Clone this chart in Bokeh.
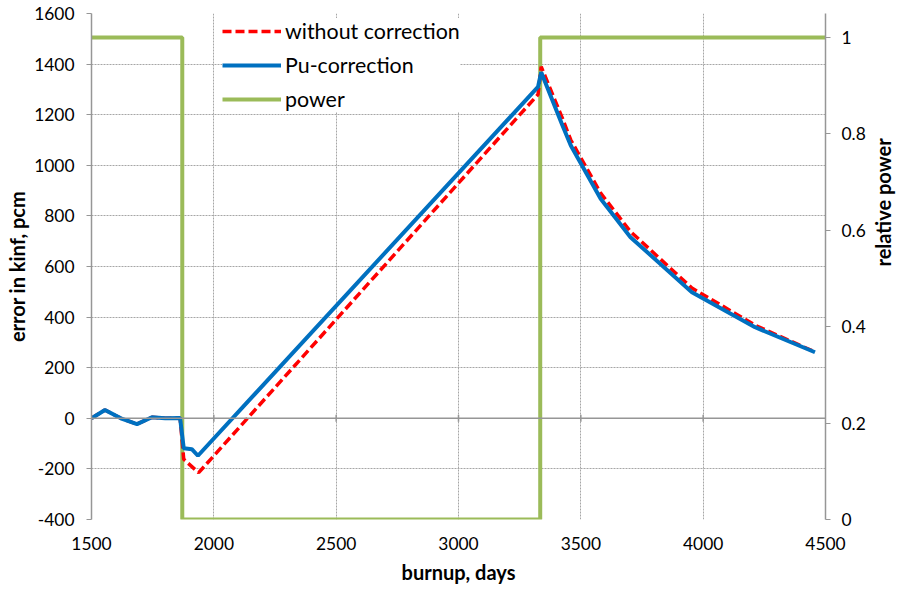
import math
from bokeh.plotting import figure
from bokeh.models import (Range1d, LinearAxis, FixedTicker, Span, Legend,
                          LegendItem, Title)
from bokeh.embed import file_html
from bokeh.resources import INLINE

# burnup (days) and reactivity error (pcm), uncorrected run
days_raw = [1500, 1555, 1620, 1686, 1747, 1801, 1862, 1877, 1938, 3325,
            3338, 3425, 3459, 3581, 3703, 3954, 4212, 4457]
err_raw = [0, 33, 0, -23, 4, 0, 1, -162, -215, 1280,
           1390, 1185, 1100, 890, 738, 515, 368, 262]

# same run with Pu correction
days_pu = [1500, 1555, 1620, 1686, 1747, 1801, 1862, 1877, 1910, 1935, 3325,
           3338, 3425, 3459, 3581, 3703, 3954, 4212, 4457]
err_pu = [0, 33, 0, -23, 4, 0, 1, -118, -122, -148, 1310,
          1368, 1157, 1078, 868, 716, 498, 360, 261]

# relative power history (step shutdown and restart)
days_pow = [1500, 1871, 1871, 3334, 3334, 4500]
power = [1, 1, 0, 0, 1, 1]

x_ticks = [1500, 2000, 2500, 3000, 3500, 4000, 4500]
y_ticks = [-400, -200, 0, 200, 400, 600, 800, 1000, 1200, 1400, 1600]
p_ticks = [0, 0.2, 0.4, 0.6, 0.8, 1]
p_labels = ["0", "0.2", "0.4", "0.6", "0.8", "1"]

FONT = "Lato"
GRID = "#a6a6a6"
AXIS = "#969696"
RED = "#ff0000"
BLUE = "#0070c0"
GREEN = "#9bbb59"
TICK_SIZE = "17.4px"
TITLE_SIZE = "20px"

p = figure(width=909, height=593, output_backend="svg", toolbar_location=None,
           x_range=Range1d(1500, 4500), y_range=Range1d(-400, 1600),
           min_border_left=91, min_border_right=82, min_border_top=13,
           min_border_bottom=74)
p.outline_line_color = None
p.background_fill_color = "white"
p.extra_y_ranges = {"power": Range1d(0, 1.05)}

# grid
p.xgrid.ticker = FixedTicker(ticks=x_ticks)
p.ygrid.ticker = FixedTicker(ticks=y_ticks)
for g in (p.xgrid, p.ygrid):
    g.grid_line_color = GRID
    g.grid_line_dash = "2 1"
    g.grid_line_width = 1

# left axis
ya = p.yaxis[0]
ya.ticker = FixedTicker(ticks=y_ticks)
ya.major_label_overrides = {t: str(t) for t in y_ticks}
ya.axis_label = "error in kinf, pcm"
ya.axis_line_color = AXIS
ya.axis_line_width = 1.5
ya.major_tick_line_color = AXIS
ya.major_tick_out = 5
ya.major_tick_in = 0
ya.minor_tick_line_color = None
ya.major_label_standoff = 12
ya.axis_label_standoff = 2

# bottom axis: labels only, the zero line carries the ticks
xa = p.xaxis[0]
xa.ticker = FixedTicker(ticks=x_ticks)
xa.major_label_overrides = {t: str(t) for t in x_ticks}
xa.axis_label = "burnup, days"
xa.axis_line_color = None
xa.major_tick_line_color = None
xa.minor_tick_line_color = None
xa.major_tick_out = 0
xa.major_label_standoff = 17
xa.axis_label_standoff = 7

# right axis for relative power
ra = LinearAxis(y_range_name="power", ticker=FixedTicker(ticks=p_ticks))
ra.major_label_overrides = dict(zip(p_ticks, p_labels))
ra.axis_line_color = AXIS
ra.axis_line_width = 1.5
ra.major_tick_line_color = AXIS
ra.major_tick_out = 5
ra.major_tick_in = 0
ra.minor_tick_line_color = None
ra.major_label_standoff = 11
p.add_layout(ra, "right")

# right-hand title reads bottom to top, like the left one
try:
    ra.axis_label_orientation = math.pi / 2
    ra.axis_label = "relative power"
    ra.axis_label_standoff = 14
    ra.axis_label_text_line_height = 1.0
except Exception:
    p.add_layout(Title(text="relative power", align="center",
                       text_font=FONT, text_font_size=TITLE_SIZE,
                       text_font_style="bold", text_color="black"), "right")

for ax in (ya, xa, ra):
    ax.major_label_text_font = FONT
    ax.major_label_text_font_size = TICK_SIZE
    ax.major_label_text_color = "black"
    ax.axis_label_text_font = FONT
    ax.axis_label_text_font_size = TITLE_SIZE
    ax.axis_label_text_font_style = "bold"
    ax.axis_label_text_color = "black"

# zero line with small tick marks
p.add_layout(Span(location=0, dimension="width", line_color=AXIS,
                  line_width=1.5))
p.scatter(x=x_ticks[1:-1], y=[0] * (len(x_ticks) - 2), marker="dash",
          angle=1.5708, size=7, line_color=AXIS, line_width=1.5)

# series
r_pow = p.line(days_pow, power, y_range_name="power", line_color=GREEN,
               line_width=4)
r_raw = p.line(days_raw, err_raw, line_color=RED, line_width=3.5,
               line_dash="9 4")
r_pu = p.line(days_pu, err_pu, line_color=BLUE, line_width=4)

legend = Legend(items=[LegendItem(label="without correction", renderers=[r_raw]),
                       LegendItem(label="Pu-correction", renderers=[r_pu]),
                       LegendItem(label="power", renderers=[r_pow])],
                location=(131, 407), orientation="vertical")
legend.label_text_font = FONT
legend.label_text_font_size = "21.4px"
legend.label_text_color = "black"
legend.glyph_width = 59
legend.glyph_height = 20
legend.label_height = 20
legend.spacing = 8
legend.padding = 4
legend.margin = 0
legend.label_standoff = 4
legend.border_line_color = None
legend.background_fill_color = "white"
legend.background_fill_alpha = 1
p.add_layout(legend)

open("out.html", "w").write(file_html(p, INLINE))
